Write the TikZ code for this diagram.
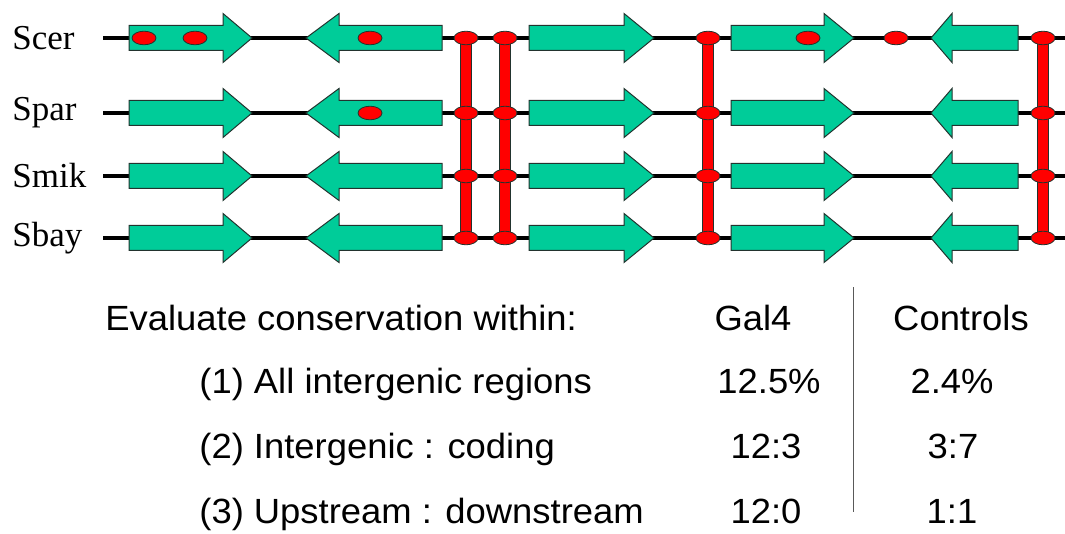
\documentclass[tikz,border=0pt]{standalone}
\usepackage{fontspec}
\setmainfont{Liberation Serif}
\setsansfont[FakeStretch=1.04]{Liberation Sans}
\usepackage{tikz}
\usetikzlibrary{shapes.geometric,positioning}
\definecolor{geneFill}{HTML}{00CC99}
\definecolor{geneEdge}{HTML}{22332E}
\definecolor{siteRed}{HTML}{FF0000}

% gene block: tail x, head base x, tip x, chromosome y
\newcommand{\genearrow}[4]{%
  \filldraw[gene] (#1,#4-12.5) -- (#2,#4-12.5) -- (#2,#4-24.5) -- (#3,#4)
    -- (#2,#4+24.5) -- (#2,#4+12.5) -- (#1,#4+12.5) -- cycle;}

\begin{document}
\begin{tikzpicture}[x=0.5pt,y=-0.5pt,
  species/.style={font=\rmfamily\fontsize{17.5}{20}\selectfont,anchor=west,inner sep=0pt},
  chrom/.style={line width=2.3pt,black},
  gene/.style={fill=geneFill,draw=geneEdge,line width=0.5pt},
  site/.style={ellipse,fill=siteRed,draw=geneEdge,line width=0.4pt,
               minimum width=12pt,minimum height=6.8pt,inner sep=0pt},
  bar/.style={line width=5.8pt,draw=geneEdge},
  barin/.style={line width=4.8pt,draw=siteRed},
  tabtext/.style={font=\sffamily\fontsize{17.5}{20}\selectfont,inner sep=0pt},
  sep/.style={draw=black!65,line width=0.5pt}
]
\useasboundingbox (0,0) rectangle (1065,534);

% four aligned chromosomes with the same five genes
\foreach \ly/\sp in {38/Scer,113/Spar,176/Smik,238/Sbay}{
  \node[species] (lbl\sp) at (12,\ly) {\sp};
  \draw[chrom] (103,\ly) -- (1065,\ly);
  \genearrow{129}{223}{252}{\ly}
  \genearrow{442}{339}{306}{\ly}
  \genearrow{529}{624}{654}{\ly}
  \genearrow{731}{824}{854}{\ly}
  \genearrow{1018}{952}{931}{\ly}
}

% sites found in one species only
\node[site] (sc1) at (144,38) {};
\node[site] (sc2) at (195,38) {};
\node[site] (sc3) at (370,38) {};
\node[site] (sc4) at (808,38) {};
\node[site] (sc5) at (896,38) {};
\node[site] (sp1) at (370,113) {};

% conserved sites, linked across all four
\foreach \cx [count=\k] in {466,505,708,1043}{
  \foreach \ly/\sp in {38/Scer,113/Spar,176/Smik,238/Sbay}
    \coordinate (\sp\k) at (\cx,\ly);
  \draw[bar] (Scer\k) -- (Sbay\k);
  \draw[barin] (Scer\k) -- (Sbay\k);
  \foreach \sp in {Scer,Spar,Smik,Sbay}
    \node[site] (d\sp\k) at (\sp\k) {};
}

% summary table
\node[tabtext,anchor=base west] (head) at (105,330) {Evaluate conservation within:};
\node[tabtext,anchor=base west] (row1) at (199,393) {(1) All intergenic regions};
\node[tabtext,anchor=base west] (row2) at (199,458) {(2) Intergenic : coding};
\node[tabtext,anchor=base west] (row3) at (199,523) {(3) Upstream : downstream};

\node[tabtext,anchor=base] (gal) at (753,330) {Gal4};
\node[tabtext,anchor=base] (gal1) at (769,393) {12.5\%};
\node[tabtext,anchor=base] (gal2) at (766,458) {12:3};
\node[tabtext,anchor=base] (gal3) at (766,523) {12:0};

\node[tabtext,anchor=base] (ctl) at (961,330) {Controls};
\node[tabtext,anchor=base] (ctl1) at (952,393) {2.4\%};
\node[tabtext,anchor=base] (ctl2) at (953,458) {3:7};
\node[tabtext,anchor=base] (ctl3) at (952,523) {1:1};

\coordinate (septop) at (853,287);
\coordinate (sepbot) at (853,512);
\draw[sep] (septop) -- (sepbot);
\end{tikzpicture}
\end{document}
